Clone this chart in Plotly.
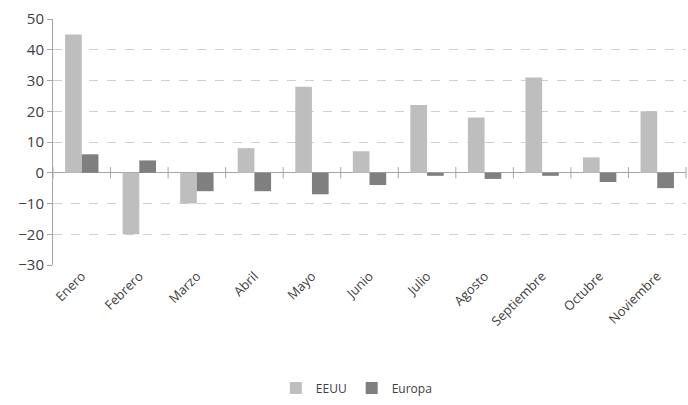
import plotly.graph_objects as go

months = ["Enero", "Febrero", "Marzo", "Abril", "Mayo", "Junio", "Julio",
          "Agosto", "Septiembre", "Octubre", "Noviembre"]
eeuu = [45, -20, -10, 8, 28, 7, 22, 18, 31, 5, 20]
europa = [6, 4, -6, -6, -7, -4, -1, -2, -1, -3, -5]

xpos = list(range(len(months)))
boundaries = [i + 0.5 for i in range(-1, len(months))]

fig = go.Figure()
fig.add_trace(go.Bar(x=xpos, y=eeuu, name="EEUU", marker_color="#BEBEBE",
                     marker_line_width=0))
fig.add_trace(go.Bar(x=xpos, y=europa, name="Europa", marker_color="#7F7F7F",
                     marker_line_width=0))
# small tick marks on the zero line between categories
fig.add_trace(go.Scatter(x=boundaries, y=[0] * len(boundaries), mode="markers",
                         marker=dict(symbol="line-ns-open", size=8, color="#A6A6A6",
                                     line=dict(color="#A6A6A6", width=1)),
                         showlegend=False, hoverinfo="skip", cliponaxis=False))

fig.update_layout(
    width=688, height=405,
    margin=dict(l=53, r=2, t=19, b=137),
    paper_bgcolor="white", plot_bgcolor="white",
    barmode="group", bargap=0.42, bargroupgap=0,
    font=dict(family="Open Sans, DejaVu Sans", color="#595959"),
    legend=dict(orientation="h", x=0.48, xanchor="center", y=-0.5, yanchor="middle",
                font=dict(size=12, color="#404040"), itemwidth=30,
                traceorder="normal", tracegroupgap=0),
    showlegend=True,
)
fig.update_xaxes(
    range=[-0.5, len(months) - 0.5],
    tickmode="array", tickvals=xpos, ticktext=months,
    tickangle=-45, tickfont=dict(size=13, color="#404040"), showgrid=False,
    showline=False, ticks="", zeroline=False, automargin=False,
)
fig.update_yaxes(
    range=[-30, 50], dtick=10, tickfont=dict(size=15, color="#404040"),
    showgrid=True, gridcolor="#D0D0D0", griddash="dash", gridwidth=1,
    zeroline=True, zerolinecolor="#A6A6A6", zerolinewidth=1,
    showline=True, linecolor="#A6A6A6", linewidth=1,
    ticks="outside", ticklen=5, tickcolor="#A6A6A6", automargin=False,
)

fig.write_html("out.html")
